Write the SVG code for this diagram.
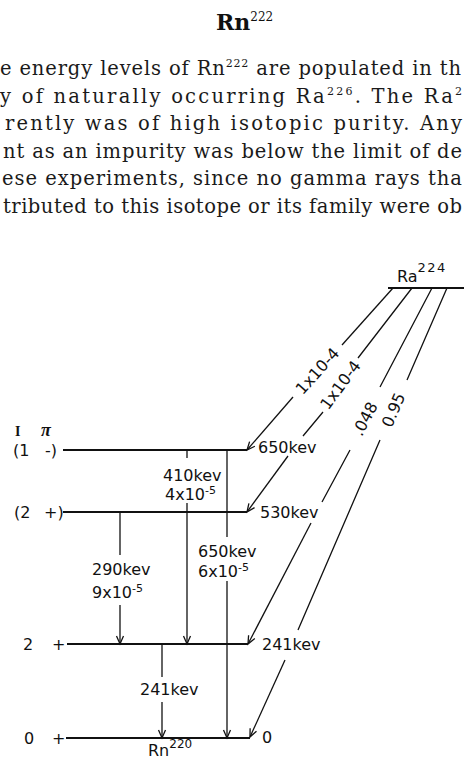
<svg xmlns="http://www.w3.org/2000/svg" width="464" height="759" viewBox="0 0 464 759">
<style>
.p{font-family:"DejaVu Serif",serif;font-size:19.5px;fill:#1a1a1a}
.sp{font-size:11px}
.h{font-family:"DejaVu Serif",serif;font-size:22px;font-weight:bold;fill:#111}
.l{font-family:"DejaVu Sans",sans-serif;font-size:16px;fill:#111}
.s{font-size:11px}
.lv{stroke:#111;stroke-width:2;fill:none}
.tr{stroke:#111;stroke-width:1.3;fill:none}
.ar{marker-end:url(#a)}
</style>
<defs>
<marker id="a" viewBox="-10 -5 12 10" refX="0" refY="0" markerWidth="12" markerHeight="10" markerUnits="userSpaceOnUse" orient="auto">
<path d="M-8,-3.5 L0,0 L-8,3.5" fill="none" stroke="#111" stroke-width="1.3"/>
</marker>
</defs>
<rect width="464" height="759" fill="#fff"/>
<g id="text">
<text class="h" x="216" y="30">Rn<tspan font-size="12" font-weight="normal" dy="-9">222</tspan></text>
<text class="p" x="0" y="75" textLength="461" lengthAdjust="spacing">e energy levels of Rn<tspan class="sp" dy="-8">222</tspan><tspan dy="8"> are populated in th</tspan></text>
<text class="p" x="0" y="102.5" textLength="462" lengthAdjust="spacing">y of naturally occurring Ra<tspan class="sp" dy="-8">226</tspan><tspan dy="8">. The Ra</tspan><tspan class="sp" dy="-8">2</tspan></text>
<text class="p" x="5" y="130" textLength="457" lengthAdjust="spacing">rently was of high isotopic purity. Any</text>
<text class="p" x="3" y="157.5" textLength="459" lengthAdjust="spacing">nt as an impurity was below the limit of de</text>
<text class="p" x="2" y="185" textLength="460" lengthAdjust="spacing">ese experiments, since no gamma rays tha</text>
<text class="p" x="3" y="212.5" textLength="459" lengthAdjust="spacing">tributed to this isotope or its family were ob</text>
</g>
<g id="ra224">
<line class="lv" x1="388" y1="288" x2="464" y2="288"/>
<text class="l" x="397" y="282" font-size="17">Ra<tspan font-size="13" dy="-10" letter-spacing="1.5">224</tspan></text>
</g>
<g id="level-650">
<line class="lv" x1="63" y1="450" x2="247" y2="450"/>
<text x="15" y="436" font-family="Liberation Serif,serif" font-size="14" font-weight="bold" fill="#111">I</text>
<text x="41" y="436" font-family="Liberation Serif,serif" font-size="18" font-style="italic" font-weight="bold" fill="#111">π</text>
<text class="l" y="456" font-size="15"><tspan x="13">(1</tspan><tspan x="45">-)</tspan></text>
<text class="l" x="258" y="453">650kev</text>
</g>
<g id="level-530">
<line class="lv" x1="63" y1="512" x2="247" y2="512"/>
<text class="l" y="518" font-size="15"><tspan x="14">(2</tspan><tspan x="44">+)</tspan></text>
<text class="l" x="260" y="518">530kev</text>
</g>
<g id="level-241">
<line class="lv" x1="67" y1="644" x2="248" y2="644"/>
<text class="l" y="650" font-size="15"><tspan x="23">2</tspan><tspan x="52">+</tspan></text>
<text class="l" x="262" y="650">241kev</text>
</g>
<g id="level-0">
<line class="lv" x1="66" y1="738" x2="250" y2="738"/>
<text class="l" y="744" font-size="15"><tspan x="24">0</tspan><tspan x="52">+</tspan></text>
<text class="l" x="262" y="743">0</text>
<text class="l" x="148" y="756" font-size="13">Rn<tspan font-size="12" dy="-8">220</tspan></text>
</g>
<g id="connectors">
<path class="tr" d="M393,288 L342,345"/>
<path class="tr ar" d="M293,397 L247,450"/>
<path class="tr" d="M412,288 L358,358 M323,412 L303,436"/>
<path class="tr ar" d="M288,456 L247,512"/>
<path class="tr" d="M432,288 L380,387 M350,450 L322,502"/>
<path class="tr ar" d="M311,523 L248,644"/>
<path class="tr" d="M447,288 L407,380 M380,440 L298,630"/>
<path class="tr ar" d="M285,660 L250,737"/>
<path class="tr" d="M187,450 L187,458"/>
<path class="tr ar" d="M187,503 L187,644"/>
<path class="tr" d="M227,450 L227,537"/>
<path class="tr ar" d="M227,581 L227,738"/>
<path class="tr" d="M120,512 L120,555"/>
<path class="tr ar" d="M120,605 L120,644"/>
<path class="tr" d="M162,644 L162,677"/>
<path class="tr ar" d="M162,702 L162,738"/>
<text class="l" transform="translate(317.5,371) rotate(-48)" text-anchor="middle" dy="5.5">1x10-4</text>
<text class="l" transform="translate(340.5,385) rotate(-53.6)" text-anchor="middle" dy="5.5">1x10-4</text>
<text class="l" transform="translate(365,419) rotate(-62.7)" text-anchor="middle" dy="5.5">.048</text>
<text class="l" transform="translate(393.5,410) rotate(-66.3)" text-anchor="middle" dy="5.5">0.95</text>
<text class="l" x="163" y="481">410kev</text>
<text class="l" x="165" y="500">4x10<tspan class="s" dy="-6">-5</tspan></text>
<text class="l" x="198" y="557">650kev</text>
<text class="l" x="198" y="577">6x10<tspan class="s" dy="-6">-5</tspan></text>
<text class="l" x="92" y="575">290kev</text>
<text class="l" x="92" y="598">9x10<tspan class="s" dy="-6">-5</tspan></text>
<text class="l" x="140" y="695">241kev</text>
</g>
</svg>
